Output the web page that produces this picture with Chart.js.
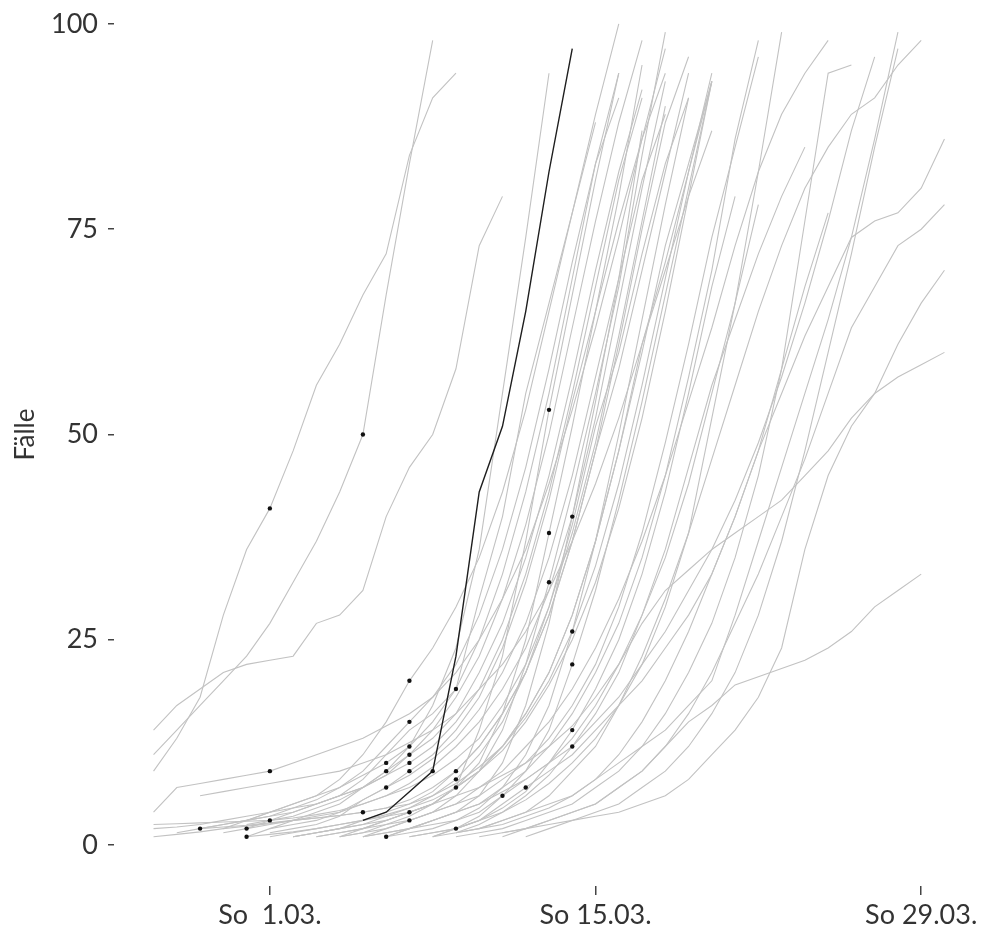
<!DOCTYPE html>
<html>
<head>
<meta charset="utf-8">
<script src="https://cdn.jsdelivr.net/npm/chart.js@4.4.1/dist/chart.umd.min.js"></script>
<style>
  html, body { margin: 0; padding: 0; background: #fff; }
  canvas { display: block; }
</style>
</head>
<body>
<canvas id="chart" width="988" height="928"></canvas>
<script>
// day index 0 = 25.02., 5 = So 1.03., 19 = So 15.03., 33 = So 29.03.
const tickDays = [5, 19, 33];
const tickLabels = ['So  1.03.', 'So 15.03.', 'So 29.03.'];
const yTicks = [0, 25, 50, 75, 100];

// grey lines: first day of each series, day of the marked point (null = none), daily case counts
const startDay = [0, 0, 0, 4, 4, 4, 3, 1, 0, 5, 6, 7, 2, 4, 5, 10, 5, 6, 8, 11, 7, 6, 8, 9, 10,
  9, 11, 12, 12, 12, 15, 8, 14, 15, 13, 10, 13, 9, 14, 16, 13, 0, 0, 2, 0, 3, 4, 2];
const markDay = [null, 5, 9, 11, 13, 11, 11, 11, 11, 11, 11, 11, 10, 10, 10, 10, 13, 13, 13, 13, 17, 17, 17, 18, 18,
  18, 18, 18, 15, 16, null, null, null, null, null, null, null, null, null, null, null, 5, 5, 2, 9, 4, 4, null];
const cases = [
  [14, 17, 19, 21, 22, 22.5, 23, 27, 28, 31, 40, 46, 50, 58, 73, 79],
  [9, 13, 18, 28, 36, 41, 48, 56, 61, 67, 72, 84, 91, 94],
  [11, 14, 17, 20, 23, 27, 32, 37, 43, 50, 67, 83, 98],
  [1, 2, 3, 4, 5, 7, 9, 12, 17, 24, 36, 55, 74, 94],
  [2, 3, 4, 5, 6, 8, 11, 14, 16, 19, 30, 40, 55, 66, 77, 88],
  [3, 4, 5, 6, 8, 11, 15, 20, 24, 29, 35, 43, 53, 65, 77, 89, 100],
  [2, 3, 4, 5, 6, 7, 9, 12, 15, 18, 22, 28, 36, 46, 58, 71, 83, 94],
  [1.5, 2, 2.5, 3, 3.5, 4, 5, 6, 7, 8.5, 11, 13, 16, 21, 27, 35, 45, 57, 70, 82, 92],
  [2, 2.2, 2.5, 3, 3.5, 4, 4.5, 5, 6, 7, 8.5, 10, 12, 15, 19, 25, 33, 43, 55, 68, 81, 91],
  [2, 2.5, 3, 4, 5.5, 7, 9, 11, 14, 18, 24, 32, 42, 54, 65, 76, 86, 94],
  [1, 1.5, 2, 3, 3.5, 4, 5, 7, 9, 12, 16, 21, 28, 37, 48, 60, 73, 83, 93],
  [1, 1.5, 2, 2.5, 3, 4, 5, 6, 8, 10, 13, 17, 22, 29, 38, 49, 61, 74, 85, 96],
  [2, 2.5, 3, 3.5, 4.5, 5.5, 7, 8.5, 10, 12, 15, 19, 25, 33, 43, 55, 69, 83, 91],
  [2.5, 3, 3.5, 4.5, 5.5, 7, 9, 11, 14, 18, 23, 30, 39, 50, 63, 76, 88, 98],
  [1.5, 2, 2.5, 3.5, 5.5, 7, 8.5, 10.5, 13, 16.5, 21, 27, 35, 45, 57, 69, 81, 89],
  [1, 2, 3, 4, 5, 7, 9, 12, 16, 21, 27, 35, 45, 57, 70, 86, 98],
  [1, 1.5, 2, 2.5, 3, 4, 5, 6.5, 9, 12, 16, 21, 28, 37, 48, 61, 75, 88, 96],
  [1, 1.5, 2, 2.5, 3.5, 4.5, 6, 8, 11, 15, 21, 29, 39, 51, 60, 72, 83, 91],
  [1, 1.5, 2.5, 3.5, 5, 7, 9, 12, 16, 21, 28, 37, 48, 61, 70, 79, 87],
  [1, 1.5, 2, 3, 4, 5.5, 7.5, 10, 13, 17, 22, 29, 38, 52, 66, 82, 99],
  [1, 1.5, 2, 3, 4, 5, 7, 14, 23, 37, 53, 67, 81, 94],
  [1, 1.5, 2, 2.5, 3, 4, 5, 7, 10, 16, 25, 38, 51, 65, 79, 95],
  [1, 1.5, 2, 3, 4, 6, 9, 14, 22, 32, 43, 55, 68, 84, 99],
  [1, 1.5, 2, 3, 4, 6, 10, 17, 27, 40, 54, 69, 87],
  [1, 1.5, 2, 3, 4.5, 7, 11, 17, 26, 37, 50, 64, 78, 91],
  [1, 1.5, 2, 2.5, 3, 4, 6, 9, 14, 22, 31, 42, 54, 67, 80, 93],
  [1, 1.5, 2, 3, 4.5, 6.5, 10, 14, 19, 25, 33, 43, 55, 68, 79],
  [1, 1.5, 2.5, 4, 6, 8.5, 12, 16, 21, 28, 36, 46, 56, 64, 72, 79, 85],
  [1, 2, 3.5, 6, 8, 10, 12, 15, 18, 22, 26, 31, 36, 42, 49, 57, 66, 76, 87, 96],
  [1, 2, 3, 5, 7, 9, 11, 14, 17, 20, 24, 28, 33, 40, 48, 58, 68, 77],
  [1, 2, 3, 4, 5, 7, 9, 12, 15, 17, 19.5, 20.5, 21.5, 22.5, 24, 26, 29, 31, 33],
  [1, 2, 3, 4, 5, 6, 7, 8.5, 10, 12, 14.5, 18, 22, 27, 31, 33.5, 36, 38, 40, 42, 45, 48, 52, 55, 57, 58.5, 60],
  [1, 1.5, 2, 2.5, 3, 3.5, 4, 5, 6, 8, 11, 14, 18, 24, 36, 45, 51, 55, 61, 66, 70],
  [1.5, 2, 3, 4, 5, 7, 9, 12, 16, 21, 27, 33, 40, 47, 55, 63, 68, 73, 75, 78],
  [1.5, 2, 2.5, 3.5, 4.5, 6, 8, 11, 15, 20, 26, 33, 40, 48, 55, 62, 68, 74, 76, 77, 80, 86],
  [1, 2, 3, 4, 5, 6.5, 8, 10, 13, 17, 22, 28, 35, 44, 55, 66, 78],
  [1, 1.5, 2, 3, 4, 5, 7, 9, 12, 16, 21, 27, 35, 45, 58, 76, 94, 95],
  [1, 2, 3, 4, 5, 7, 9, 12, 15, 19, 24, 30, 37, 45, 54, 63, 73, 82, 89, 94, 98],
  [2, 3, 4, 5, 6, 8, 10, 12, 14, 17, 20, 28, 37, 46, 55, 64, 74, 86, 99],
  [1, 2, 3, 4, 5, 7, 9, 12, 16, 21, 28, 37, 48, 60, 72, 85, 97],
  [1.5, 2, 3, 4, 6, 9, 12, 17, 23, 30, 38, 47, 56, 65, 73, 80, 85, 89, 91, 95, 98],
  [4, 7, 7.5, 8, 8.5, 9, 10, 11, 12, 13, 14.5, 16, 18, 21, 25, 30, 36, 44, 53, 63, 74, 86, 97],
  [2.5, 2.6, 2.7, 2.8, 2.9, 3, 3.3, 3.7, 4.2, 5, 6, 7.5, 9.5, 12, 15, 19, 24, 31, 40, 52, 66, 80, 93],
  [2, 2.2, 2.4, 2.7, 3, 3.3, 3.6, 4, 4.5, 5.5, 7, 9, 12, 16, 21, 28, 37, 48, 58, 70, 82, 94],
  [1, 1.3, 1.6, 2, 2.3, 2.6, 3, 3.3, 3.6, 4, 4.5, 5, 6, 7.5, 9.5, 12, 15.5, 20, 26, 34, 44, 56, 69, 82, 94],
  [1.5, 2, 2.5, 3, 3.5, 4, 5, 6, 7, 8.5, 10.5, 13, 17, 22, 29, 38, 49, 62, 76, 90],
  [1, 1.3, 1.6, 2, 2.5, 3, 3.7, 4.5, 5.5, 7, 9, 11.5, 15, 19.5, 25, 32, 41, 52, 65, 79, 93],
  [6, 6.5, 7, 7.5, 8, 8.5, 9, 10, 11, 12.5, 14, 16, 19, 22, 26, 31, 37, 44, 52, 61, 71, 82, 93]
];

// highlighted (black) series
const focusStart = 9;
const focusMark = 12;
const focusCases = [3, 4, 6.5, 9, 23, 43, 51, 65, 82, 97];

const toPoints = (start, vals) => vals.map((v, i) => ({ x: start + i, y: v }));

const datasets = cases.map((vals, k) => ({
  data: toPoints(startDay[k], vals),
  borderColor: '#c2c2c2',
  borderWidth: 1.1,
  pointRadius: 0,
  order: 2
}));

datasets.push({
  data: toPoints(focusStart, focusCases),
  borderColor: '#1e1e1e',
  borderWidth: 1.4,
  pointRadius: 0,
  order: 1
});

// marked points, taken from the series above
const marks = [];
cases.forEach((vals, k) => {
  if (markDay[k] !== null) marks.push({ x: markDay[k], y: vals[markDay[k] - startDay[k]] });
});
marks.push({ x: focusMark, y: focusCases[focusMark - focusStart] });
datasets.push({
  data: marks,
  showLine: false,
  pointRadius: 2.2,
  pointBorderWidth: 0,
  pointBackgroundColor: '#111',
  order: 0
});

const yTitle = {
  id: 'yTitle',
  afterDraw(chart) {
    const c = chart.ctx;
    c.save();
    c.translate(26, chart.scales.y.getPixelForValue(50));
    c.rotate(-Math.PI / 2);
    c.font = '26px Lato';
    c.fillStyle = '#333';
    c.textAlign = 'center';
    c.textBaseline = 'middle';
    c.fillText('Fälle', 0, 0);
    c.restore();
  }
};

Chart.defaults.font.family = 'Lato';

new Chart(document.getElementById('chart'), {
  type: 'line',
  data: { datasets },
  plugins: [yTitle],
  options: {
    responsive: false,
    animation: false,
    events: [],
    layout: { padding: { top: 10, right: 2, left: 0, bottom: 0 } },
    plugins: { legend: { display: false }, tooltip: { enabled: false } },
    elements: { line: { tension: 0 } },
    scales: {
      x: {
        type: 'linear',
        min: -1.7,
        max: 35.7,
        afterFit(s) { s.height = 42; s.paddingLeft = 0; s.paddingRight = 0; },
        afterBuildTicks(s) { s.ticks = tickDays.map(v => ({ value: v })); },
        ticks: {
          callback: v => tickLabels[tickDays.indexOf(v)],
          font: { size: 27 },
          color: '#333',
          padding: 4,
          maxRotation: 0,
          autoSkip: false
        },
        grid: { drawOnChartArea: false, tickLength: 9, color: '#444', lineWidth: 1.5 },
        border: { display: false }
      },
      y: {
        type: 'linear',
        min: -4.99,
        max: 101.7,
        afterFit(s) { s.width = 114; s.paddingTop = 0; s.paddingBottom = 0; },
        afterBuildTicks(s) { s.ticks = yTicks.map(v => ({ value: v })); },
        ticks: { font: { size: 27 }, color: '#333', padding: 10 },
        grid: { drawOnChartArea: false, tickLength: 6, color: '#444', lineWidth: 1.5 },
        border: { display: false }
      }
    }
  }
});
</script>
</body>
</html>
